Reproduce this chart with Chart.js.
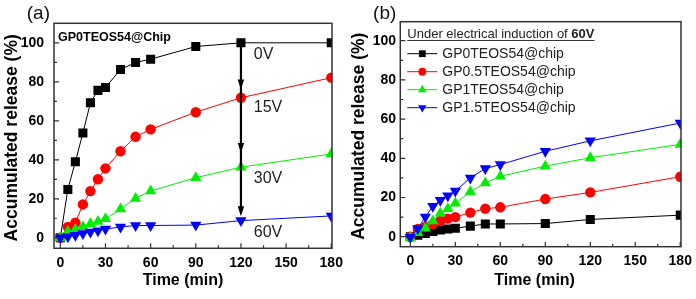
<!DOCTYPE html>
<html>
<head>
<meta charset="utf-8">
<script src="https://cdn.jsdelivr.net/npm/chart.js@4.4.1/dist/chart.umd.min.js"></script>
<style>
  html, body { margin: 0; padding: 0; background: #fff; }
  #wrap { position: relative; width: 696px; height: 299px; }
  #wrap canvas { position: absolute; top: 0; }
</style>
</head>
<body>
<div id="wrap">
  <canvas id="chartA" width="346" height="299" style="left:0"></canvas>
  <canvas id="chartB" width="350" height="299" style="left:346px"></canvas>
</div>
<script>
// sampling times (min) and axis ticks
const times = [0, 5, 10, 15, 20, 25, 30, 40, 50, 60, 90, 120, 180];
const xTicks = [0, 30, 60, 90, 120, 150, 180];
const yTicks = [0, 20, 40, 60, 80, 100];

// (a) GP0TEOS54@Chip under different voltages
const voltLabels = ['0V', '15V', '30V', '60V'];
const release0V  = [0, 24.8, 39, 53.7, 69.2, 75.6, 77.1, 86.3, 89.9, 91.6, 98.1, 100, 100];
const release15V = [0, 5.6, 7.7, 17.1, 23.9, 30, 35.6, 44.4, 51.8, 55.6, 64.4, 71.8, 82.1];
const release30V = [0, 3.2, 4.3, 5.6, 7.2, 8.4, 9.7, 14.7, 20.2, 24, 30.8, 36.2, 43];
const release60V = [0, 0.5, 1.3, 2.2, 3, 3.6, 4.5, 5.5, 6.3, 6.3, 6.5, 8.8, 11.2];
const voltLabelY = [93.7, 67, 30.1, 2.9];  // where the voltage notes sit (data units)
const arrowTips = [76, 43.5, 11];

// (b) different GP contents at 60V
const sampleLabels = ['GP0TEOS54@chip', 'GP0.5TEOS54@chip', 'GP1TEOS54@chip', 'GP1.5TEOS54@chip'];
const releaseGP0   = [0, 0.7, 1.7, 2.7, 3.4, 3.9, 4.3, 5.4, 6.5, 6.5, 6.7, 8.8, 11];
const releaseGP05  = [0, 4, 5, 6.5, 8, 9.2, 10, 12.3, 14.3, 15, 19.2, 22.6, 30.6];
const releaseGP1   = [-0.5, 2, 4.5, 8, 12, 14.3, 17.1, 23, 27.4, 30.8, 36, 40.3, 47.1];
const releaseGP15  = [-0.3, 4.2, 10, 15.6, 18.6, 20.9, 23.3, 30, 34.8, 36.8, 43.6, 48.9, 58];

const FONT = "'Liberation Sans', Arial, sans-serif";
Chart.defaults.font.family = FONT;

const colors = ['#000000', '#ff0000', '#00ee00', '#0000ff'];
const styles = ['rect', 'circle', 'triangle', 'down'];
const radii = [6.4, 5.2, 6.5, 6.5];

function markerPath(ctx, style, x, y, r) {
  ctx.beginPath();
  if (style === 'rect') {
    const s = r * Math.SQRT1_2;
    ctx.rect(x - s, y - s, 2 * s, 2 * s);
  } else if (style === 'circle') {
    ctx.arc(x, y, r, 0, Math.PI * 2);
  } else {
    const d = style === 'down' ? -1 : 1;
    for (let k = 0; k < 3; k++) {
      const ang = k * 2 * Math.PI / 3;
      const px = x + Math.sin(ang) * r;
      const py = y - d * Math.cos(ang) * r;
      if (k) ctx.lineTo(px, py); else ctx.moveTo(px, py);
    }
    ctx.closePath();
  }
}

function makeSets(labels, series) {
  return series.map((vals, i) => ({
    label: labels[i],
    data: times.map((t, j) => ({ x: t, y: vals[j] })),
    borderColor: colors[i],
    backgroundColor: colors[i],
    borderWidth: 1,
    pointStyle: styles[i] === 'down' ? 'triangle' : styles[i],
    pointRotation: styles[i] === 'down' ? 180 : 0,
    pointRadius: radii[i],
    pointBorderWidth: 0,
    pointBackgroundColor: colors[i],
    tension: 0,
    order: series.length - i   // later series on top
  }));
}

// frame, inward ticks, axis titles, panel letter
function framePlugin(cfg) {
  return {
    id: 'frame',
    afterDraw(chart) {
      const { ctx, chartArea: a, scales: { x, y } } = chart;
      ctx.save();
      ctx.strokeStyle = '#333';
      ctx.lineWidth = 1.2;
      ctx.beginPath();
      for (let t = 0; t <= 180; t += 15) {
        const px = x.getPixelForValue(t);
        ctx.moveTo(px, a.bottom);
        ctx.lineTo(px, a.bottom - (xTicks.includes(t) ? 5 : 3));
      }
      for (let v = 0; v <= 100; v += 10) {
        const py = y.getPixelForValue(v);
        ctx.moveTo(a.left, py);
        ctx.lineTo(a.left + (yTicks.includes(v) ? 5 : 3), py);
      }
      ctx.stroke();
      ctx.lineWidth = 1.5;
      ctx.strokeRect(a.left, a.top, a.right - a.left, a.bottom - a.top);

      ctx.fillStyle = '#000';
      ctx.textBaseline = 'middle';
      ctx.textAlign = 'center';
      ctx.font = 'bold 16px ' + FONT;
      ctx.fillText('Time (min)', (a.left + a.right) / 2 + cfg.xTitleDx, 281);
      ctx.save();
      ctx.translate(cfg.yTitleX, (a.top + a.bottom) / 2 + 2);
      ctx.rotate(-Math.PI / 2);
      ctx.font = 'bold 17.5px ' + FONT;
      ctx.fillText('Accumulated release (%)', 0, 0);
      ctx.restore();

      // panel letter, placed just left of the frame corner
      ctx.font = '19px ' + FONT;
      ctx.fillStyle = '#111';
      ctx.textAlign = 'right';
      ctx.textBaseline = 'middle';
      ctx.fillText(cfg.panel, a.left - 4, 14);
      ctx.restore();
    }
  };
}

function makeOptions(cfg) {
  return {
    responsive: false,
    animation: false,
    layout: { padding: { top: cfg.top, right: cfg.right, left: 0, bottom: 0 } },
    plugins: {
      legend: { display: false },
      tooltip: { enabled: false }
    },
    scales: {
      x: {
        type: 'linear', min: cfg.xMin, max: 180.5,
        grid: { display: false, drawTicks: true, tickLength: 6 },
        border: { display: false },
        afterBuildTicks: s => { s.ticks = xTicks.map(v => ({ value: v })); },
        afterFit: s => { s.height = cfg.xH; },
        ticks: { font: { size: 14, weight: 'bold' }, color: '#000', padding: 0, maxRotation: 0, autoSkip: false }
      },
      y: {
        min: cfg.yMin, max: cfg.yMax,
        grid: { display: false, drawTicks: true, tickLength: cfg.yPad },
        border: { display: false },
        afterBuildTicks: s => { s.ticks = yTicks.map(v => ({ value: v })); },
        afterFit: s => { s.width = cfg.yW; },
        ticks: { font: { size: 14, weight: 'bold' }, color: '#000', padding: 0 }
      }
    }
  };
}

// panel (a) notes: arrow, voltage labels, sample name
const notesA = {
  id: 'notesA',
  afterDatasetsDraw(chart) {
    const { ctx, chartArea: a, scales: { x, y } } = chart;
    const px = x.getPixelForValue(120);
    ctx.save();
    ctx.strokeStyle = '#000';
    ctx.fillStyle = '#000';
    ctx.lineWidth = 2.2;
    ctx.beginPath();
    ctx.moveTo(px, y.getPixelForValue(100));
    ctx.lineTo(px, y.getPixelForValue(arrowTips[arrowTips.length - 1]) - 4);
    ctx.stroke();
    arrowTips.forEach(v => {
      const py = y.getPixelForValue(v);
      ctx.beginPath();
      ctx.moveTo(px, py);
      ctx.lineTo(px - 3.2, py - 10);
      ctx.lineTo(px + 3.2, py - 10);
      ctx.closePath();
      ctx.fill();
    });
    ctx.font = '16px ' + FONT;
    ctx.fillStyle = '#222';
    ctx.textAlign = 'left';
    ctx.textBaseline = 'middle';
    voltLabels.forEach((t, i) => ctx.fillText(t, x.getPixelForValue(128.5), y.getPixelForValue(voltLabelY[i])));
    ctx.font = 'bold 12.5px ' + FONT;
    ctx.fillStyle = '#000';
    ctx.fillText('GP0TEOS54@Chip', a.left + 4, a.top + 14);
    ctx.restore();
  }
};

// panel (b) legend
const legendB = {
  id: 'legendB',
  afterDraw(chart) {
    const { ctx, chartArea: a } = chart;
    ctx.save();
    const x0 = a.left + 7;
    ctx.textAlign = 'left';
    ctx.textBaseline = 'alphabetic';
    ctx.fillStyle = '#222';
    ctx.font = '13px ' + FONT;
    const part1 = 'Under electrical induction of ';
    ctx.fillText(part1, x0, 37.5);
    const w1 = ctx.measureText(part1).width;
    ctx.font = 'bold 13px ' + FONT;
    ctx.fillText('60V', x0 + w1, 37.5);
    const w2 = ctx.measureText('60V').width;
    ctx.strokeStyle = '#333';
    ctx.lineWidth = 1;
    ctx.beginPath();
    ctx.moveTo(x0, 40.5);
    ctx.lineTo(x0 + w1 + w2, 40.5);
    ctx.stroke();

    ctx.font = '14px ' + FONT;
    ctx.textBaseline = 'middle';
    chart.data.datasets.forEach((ds, i) => {
      const yy = a.top + 32 + i * 18;
      ctx.strokeStyle = ds.borderColor;
      ctx.beginPath();
      ctx.moveTo(x0, yy);
      ctx.lineTo(x0 + 30, yy);
      ctx.stroke();
      ctx.fillStyle = ds.borderColor;
      markerPath(ctx, styles[i], x0 + 15, yy, radii[i] * 0.75);
      ctx.fill();
      ctx.fillStyle = '#222';
      ctx.fillText(ds.label, x0 + 35, yy);
    });
    ctx.restore();
  }
};

new Chart(document.getElementById('chartA'), {
  type: 'line',
  data: { datasets: makeSets(voltLabels, [release0V, release15V, release30V, release60V]) },
  options: makeOptions({ top: 23.3, right: 14, xH: 50.7, yW: 54, xMin: -4.2, yMin: -5.4, yMax: 110, yPad: 10 }),
  plugins: [notesA, framePlugin({ xTitleDx: -10, yTitleX: 11.7, panel: '(a)' })]
});

new Chart(document.getElementById('chartB'), {
  type: 'line',
  data: { datasets: makeSets(sampleLabels, [releaseGP0, releaseGP05, releaseGP1, releaseGP15]) },
  options: makeOptions({ top: 21.7, right: 15, xH: 52.3, yW: 54.3, xMin: -6.7, yMin: -5.1, yMax: 109.7, yPad: 4.3 }),
  plugins: [legendB, framePlugin({ xTitleDx: -6, yTitleX: 12.7, panel: '(b)' })]
});
</script>
</body>
</html>
